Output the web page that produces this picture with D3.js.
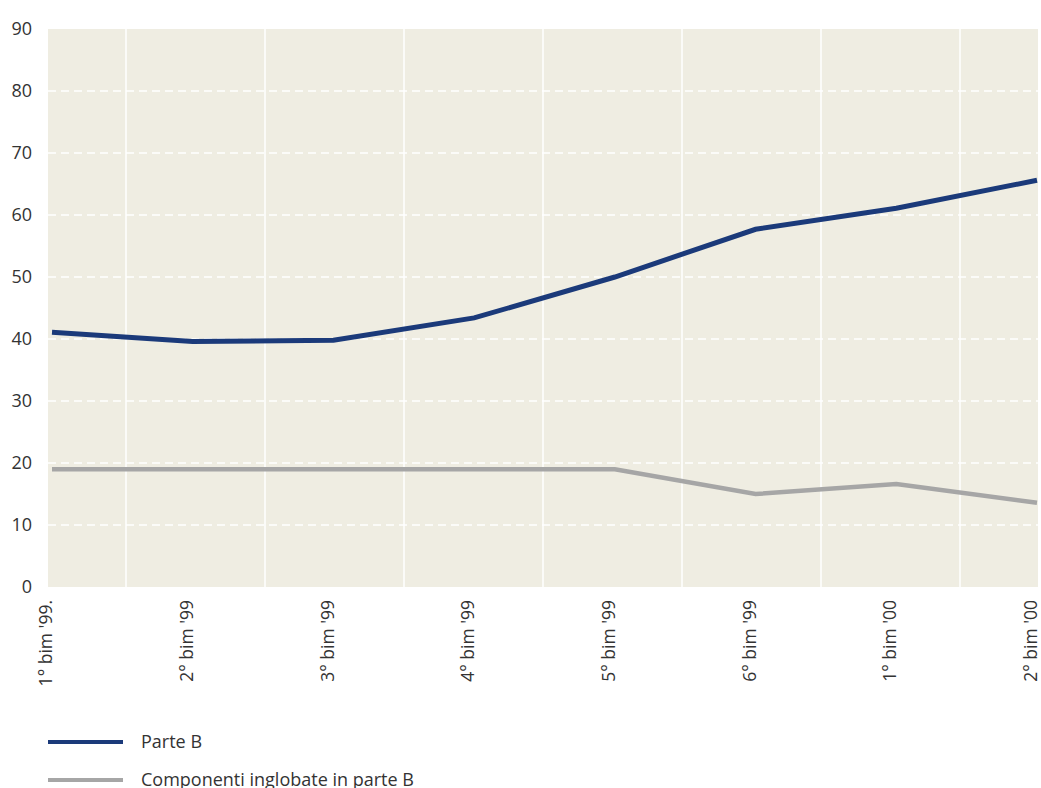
<!DOCTYPE html>
<html><head><meta charset="utf-8">
<script src="https://cdn.jsdelivr.net/npm/d3@7"></script>
<style>body{margin:0;background:#fff}svg{display:block}</style>
</head><body>
<svg id="c" width="1041" height="788"></svg>
<script>
const categories = ["1° bim '99.", "2° bim '99", "3° bim '99", "4° bim '99", "5° bim '99", "6° bim '99", "1° bim '00", "2° bim '00"];
const parteB = [41.1, 39.6, 39.8, 43.4, 50.0, 57.7, 61.1, 65.6];
const componenti = [19.0, 19.0, 19.0, 19.0, 19.0, 15.0, 16.6, 13.6];
const yTicks = [0, 10, 20, 30, 40, 50, 60, 70, 80, 90];
const seriesNames = ["Parte B", "Componenti inglobate in parte B"];
const colors = ["#1b3a7a", "#a6a6a6"];

const svg = d3.select("#c");
const L = 48, R = 1038, T = 29, B = 587;
const x = d3.scalePoint().domain(categories).range([52, 1037]);
const xGrid = d3.scalePoint().domain(d3.range(7)).range([126, 960]);
const y = d3.scaleLinear().domain([0, 90]).range([B, T]);

svg.append("rect").attr("x", L).attr("y", T).attr("width", R - L).attr("height", B - T).attr("fill", "#efede2");

svg.append("g").selectAll("line").data(d3.range(7)).join("line")
  .attr("x1", d => xGrid(d)).attr("x2", d => xGrid(d)).attr("y1", T).attr("y2", B)
  .attr("stroke", "#fff").attr("stroke-width", 1.5);

svg.append("g").selectAll("line").data(yTicks.filter(d => d > 0 && d < 90)).join("line")
  .attr("x1", L).attr("x2", R).attr("y1", d => y(d)).attr("y2", d => y(d))
  .attr("stroke", "#fff").attr("stroke-width", 1.5).attr("stroke-dasharray", "8,5");

const font = "'Open Sans', sans-serif";
svg.append("g").selectAll("text").data(yTicks).join("text")
  .attr("x", 32).attr("y", d => y(d)).attr("dy", "0.35em").attr("text-anchor", "end")
  .attr("font-family", font).attr("font-size", 18).attr("fill", "#333").text(d => d);

svg.append("g").selectAll("text").data(categories).join("text")
  .attr("transform", d => `translate(${x(d) - 6},600) rotate(-90)`)
  .attr("dy", "0.35em").attr("text-anchor", "end")
  .attr("font-family", font).attr("font-size", 17.5).attr("fill", "#333").text(d => d);

const line = d3.line().x((d, i) => x(categories[i])).y(d => y(d));
[componenti, parteB].forEach((s) => {
  const ci = s === parteB ? 0 : 1;
  svg.append("path").attr("d", line(s)).attr("fill", "none")
    .attr("stroke", colors[ci]).attr("stroke-width", ci === 0 ? 5 : 4.5);
});

const lg = svg.append("g");
seriesNames.forEach((n, i) => {
  const yy = 742 + i * 38;
  lg.append("line").attr("x1", 48).attr("x2", 123).attr("y1", yy).attr("y2", yy)
    .attr("stroke", colors[i]).attr("stroke-width", 4);
  lg.append("text").attr("x", 141).attr("y", yy).attr("dy", "0.35em")
    .attr("font-family", font).attr("font-size", 18).attr("fill", "#333").text(n);
});
</script>
</body></html>
